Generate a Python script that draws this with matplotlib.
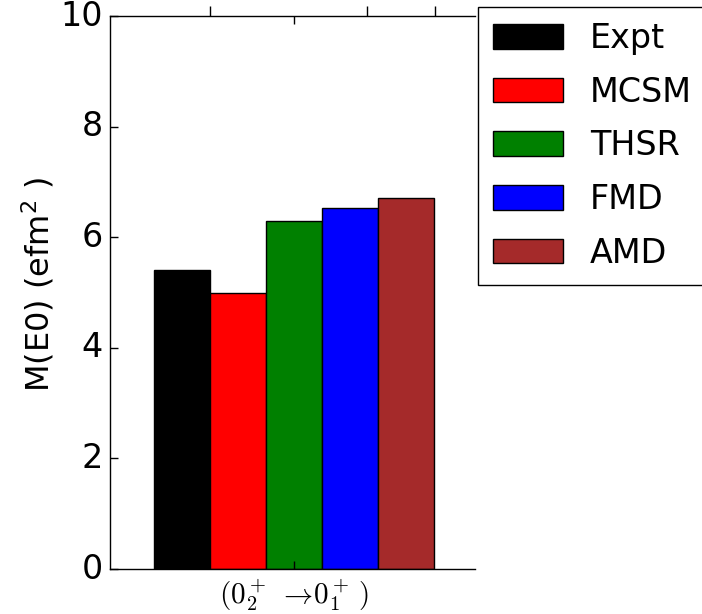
import matplotlib
matplotlib.use("Agg")
import matplotlib.pyplot as plt
import matplotlib.transforms as mtransforms
import numpy as np

# ---- data ----
models = ["Expt", "MCSM", "THSR", "FMD", "AMD"]
values = [5.40, 5.00, 6.29, 6.52, 6.70]
colors = ["black", "red", "green", "blue", "brown"]
transition_label = r"$(0_2^+\;\rightarrow\!0_1^+\,)$"
yticks = [0, 2, 4, 6, 8, 10]
upper_axis_ticks = [-0.301, 0.260, 0.503]

bar_width = 0.2

fig = plt.figure(figsize=(7.02, 6.14), dpi=100)
W, H = 702, 614
left, right, bottom, top = 110 / W, 475 / W, 1 - 569 / H, 1 - 16 / H
ax = fig.add_axes([left, bottom, right - left, top - bottom])

offsets = (np.arange(len(models)) - (len(models) - 1) / 2) * bar_width
for off, v, c, m in zip(offsets, values, colors, models):
    ax.bar(off, v, width=bar_width, color=c, edgecolor="black", linewidth=1.0, label=m)

ax.set_xlim(-0.659, 0.646)
ax.set_ylim(0, 10)
ax.set_yticks(yticks)
ax.set_xticks([0])
ax.set_xticklabels([transition_label], fontsize=21)
for t in ax.get_xticklabels():
    t.set_math_fontfamily("cm")
ax.tick_params(axis="y", labelsize=24, direction="in", length=6, width=1, right=False, pad=5)
ax.tick_params(axis="x", direction="in", length=6, width=1, top=True, pad=6)
offset = mtransforms.ScaledTranslation(0, 2.5 / 72, fig.dpi_scale_trans)
for t in ax.get_yticklabels():
    t.set_transform(t.get_transform() + offset)
ax.spines["right"].set_visible(False)
for s in ["left", "bottom", "top"]:
    ax.spines[s].set_linewidth(1.0)
ax.set_ylabel(r"M(E0) (efm$^2$ )", fontsize=23)
ax.yaxis.set_label_coords(-0.147, 0.514)

# partial axes above (cropped by figure edge)
ax2 = fig.add_axes([left, top, right - left, 0.5])
ax2.set_xlim(ax.get_xlim())
ax2.set_xticks(upper_axis_ticks)
ax2.set_xticklabels([])
ax2.set_yticks([])
ax2.tick_params(axis="x", direction="in", length=7, width=1)
for s in ["left", "right", "top", "bottom"]:
    ax2.spines[s].set_visible(False)
ax2.patch.set_visible(False)

leg = ax.legend(loc="upper left", bbox_to_anchor=(478 / W, 1 - 7 / H),
                bbox_transform=fig.transFigure, borderaxespad=0,
                fontsize=24, fancybox=False, framealpha=1,
                borderpad=0.45, labelspacing=0.62, handlelength=2.1,
                handleheight=0.75, handletextpad=0.8)
leg.get_frame().set_edgecolor("black")
leg.get_frame().set_linewidth(1.0)

fig.savefig("out.png", dpi=100)
